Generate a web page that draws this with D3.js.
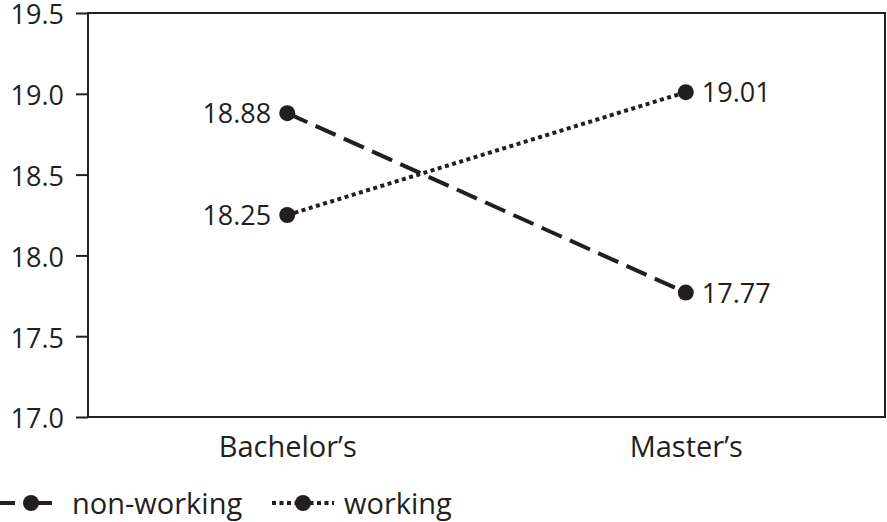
<!DOCTYPE html>
<html>
<head>
<meta charset="utf-8">
<script src="https://cdn.jsdelivr.net/npm/d3@7"></script>
<style>
  body { margin: 0; background: #fff; }
  text { font-family: "Open Sans", sans-serif; fill: #231f20; }
</style>
</head>
<body>
<div id="chart"></div>
<script>
var width = 887;
var height = 522;

var categories = ["Bachelor\u2019s", "Master\u2019s"];
var nonWorking = [18.88, 17.77];
var working = [18.25, 19.01];
var yTicks = [17.0, 17.5, 18.0, 18.5, 19.0, 19.5];

var series = [
  {name: "non-working", values: nonWorking, dash: "22,9", labelSide: [-1, 1]},
  {name: "working", values: working, dash: "4,3.5", labelSide: [-1, 1]}
];

var margin = {top: 13, right: 2, bottom: 105, left: 88};
var ink = "#231f20";

var svg = d3.select("#chart").append("svg")
  .attr("width", width)
  .attr("height", height);

var x = d3.scalePoint()
  .domain(categories)
  .range([margin.left, width - margin.right])
  .padding(0.5);

var y = d3.scaleLinear()
  .domain([17.0, 19.5])
  .range([height - margin.bottom, margin.top]);

// frame
svg.append("rect")
  .attr("x", margin.left)
  .attr("y", margin.top)
  .attr("width", width - margin.right - margin.left)
  .attr("height", height - margin.bottom - margin.top)
  .attr("fill", "none")
  .attr("stroke", ink)
  .attr("stroke-width", 2);

// y axis
var yAxis = svg.append("g")
  .attr("transform", "translate(" + margin.left + ",0)")
  .call(d3.axisLeft(y).tickValues(yTicks).tickFormat(d3.format(".1f")).tickSize(12).tickPadding(12));
yAxis.select(".domain").remove();
yAxis.selectAll("line").attr("stroke", ink).attr("stroke-width", 2);
yAxis.selectAll("text").style("font-size", "27px").attr("fill", ink).attr("dy", "0.4em");

// x axis labels
var xAxis = svg.append("g")
  .attr("transform", "translate(0," + (height - margin.bottom) + ")")
  .call(d3.axisBottom(x).tickSize(0).tickPadding(19));
xAxis.select(".domain").remove();
xAxis.selectAll("text").style("font-size", "29px").attr("fill", ink).attr("dy", "0.71em");

var line = d3.line()
  .x(function(d, i) { return x(categories[i]); })
  .y(function(d) { return y(d); });

series.forEach(function(s) {
  svg.append("path")
    .datum(s.values)
    .attr("d", line)
    .attr("fill", "none")
    .attr("stroke", ink)
    .attr("stroke-width", 4)
    .attr("stroke-dasharray", s.dash);

  svg.selectAll(null)
    .data(s.values)
    .enter().append("circle")
    .attr("cx", function(d, i) { return x(categories[i]); })
    .attr("cy", function(d) { return y(d); })
    .attr("r", 8)
    .attr("fill", ink);

  svg.selectAll(null)
    .data(s.values)
    .enter().append("text")
    .attr("x", function(d, i) { return x(categories[i]) + s.labelSide[i] * 16; })
    .attr("y", function(d) { return y(d); })
    .attr("dy", "0.38em")
    .attr("text-anchor", function(d, i) { return s.labelSide[i] < 0 ? "end" : "start"; })
    .style("font-size", "27px")
    .text(function(d) { return d3.format(".2f")(d); });
});

// legend
var legendY = 503;
var legendX = [0, 272];
series.forEach(function(s, i) {
  var g = svg.append("g").attr("transform", "translate(" + legendX[i] + "," + legendY + ")");
  g.append("line")
    .attr("x1", 0).attr("x2", 62)
    .attr("y1", 0).attr("y2", 0)
    .attr("stroke", ink)
    .attr("stroke-width", 4)
    .attr("stroke-dasharray", i === 0 ? "15,10,0,12,15" : "4,3.5");
  g.append("circle")
    .attr("cx", 31).attr("cy", 0).attr("r", 8).attr("fill", ink);
  g.append("text")
    .attr("x", 72)
    .attr("y", 0)
    .attr("dy", "0.38em")
    .style("font-size", "29px")
    .text(s.name);
});
</script>
</body>
</html>
